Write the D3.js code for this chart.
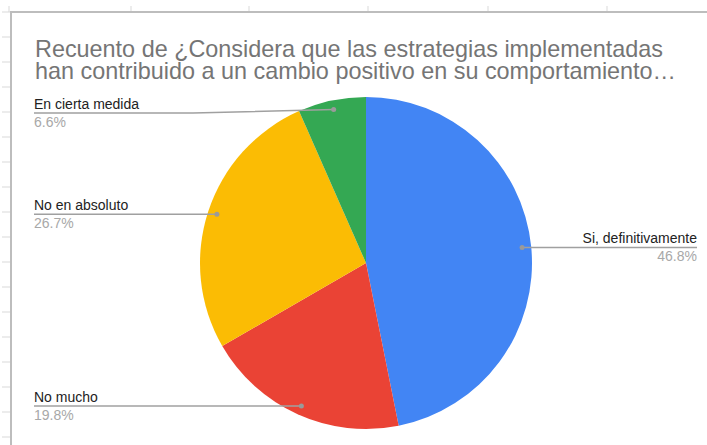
<!DOCTYPE html>
<html>
<head>
<meta charset="utf-8">
<script src="https://cdn.jsdelivr.net/npm/d3@7"></script>
<style>
  body { margin: 0; background: #fff; }
  svg { display: block; font-family: "Liberation Sans", Arial, sans-serif; }
</style>
</head>
<body>
<svg id="chart" width="707" height="445"></svg>
<script>
// data
var titleLines = [
  "Recuento de ¿Considera que las estrategias implementadas",
  "han contribuido a un cambio positivo en su comportamiento…"
];
var categories = ["Si, definitivamente", "No mucho", "No en absoluto", "En cierta medida"];
var percents = [46.8, 19.8, 26.7, 6.6];
var colors = ["#4285f4", "#ea4335", "#fbbc04", "#34a853"];

var svg = d3.select("#chart");
var width = 707, height = 445;

// spreadsheet grid showing behind the chart
var rowLines = d3.range(12, height, 25);
var colLines = [9, 131, 249, 368, 488, 607];
svg.selectAll("line.row").data(rowLines).enter().append("line")
   .attr("class", "row")
   .attr("x1", 2).attr("x2", 11)
   .attr("y1", d => d).attr("y2", d => d)
   .attr("stroke", "#d9d9d9").attr("stroke-width", 1);
svg.selectAll("line.col").data(colLines).enter().append("line")
   .attr("class", "col")
   .attr("x1", d => d).attr("x2", d => d)
   .attr("y1", 6).attr("y2", 12)
   .attr("stroke", "#d9d9d9").attr("stroke-width", 1);

// chart frame
svg.append("rect")
   .attr("x", 11).attr("y", 12)
   .attr("width", width).attr("height", height)
   .attr("fill", "#fff")
   .attr("stroke", "#bdbdbd").attr("stroke-width", 2);

// title
svg.append("g").selectAll("text").data(titleLines).enter().append("text")
   .attr("x", 35)
   .attr("y", (d, i) => 57 + i * 21.5)
   .attr("font-size", 23.4)
   .attr("fill", "#757575")
   .text(d => d);

// pie
var cx = 366, cy = 263, radius = 166;
var pie = d3.pie().sort(null).value(d => d);
var arcs = pie(percents);
var arc = d3.arc().innerRadius(0).outerRadius(radius);
var dotArc = d3.arc().innerRadius(radius * 0.945).outerRadius(radius * 0.945);

var g = svg.append("g").attr("transform", "translate(" + cx + "," + cy + ")");
g.selectAll("path").data(arcs).enter().append("path")
   .attr("d", arc)
   .attr("fill", (d, i) => colors[i]);

// labels with leader lines
var leftX = 34, kneeX = 193, rightX = 697, minLineY = 113;
arcs.forEach(function(d, i) {
  var c = dotArc.centroid(d);
  var px = cx + c[0], py = cy + c[1];
  var onRight = c[0] > 0;
  var lineY = Math.max(py, minLineY);
  var pts = onRight
    ? [[px, py], [rightX, lineY]]
    : [[leftX, lineY], [kneeX, lineY], [px, py]];

  svg.append("path")
     .attr("d", d3.line()(pts))
     .attr("fill", "none")
     .attr("stroke", "#a0a0a0").attr("stroke-width", 1.5);
  svg.append("circle")
     .attr("cx", px).attr("cy", py).attr("r", 2.5)
     .attr("fill", "#9a9a9a");

  var tx = onRight ? rightX : leftX;
  var anchor = onRight ? "end" : "start";
  svg.append("text")
     .attr("x", tx).attr("y", lineY - 4)
     .attr("text-anchor", anchor)
     .attr("font-size", 14)
     .attr("fill", "#222")
     .text(categories[i]);
  svg.append("text")
     .attr("x", tx).attr("y", lineY + 14)
     .attr("text-anchor", anchor)
     .attr("font-size", 14)
     .attr("fill", "#a8a8a8")
     .text(percents[i].toFixed(1) + "%");
});
</script>
</body>
</html>
